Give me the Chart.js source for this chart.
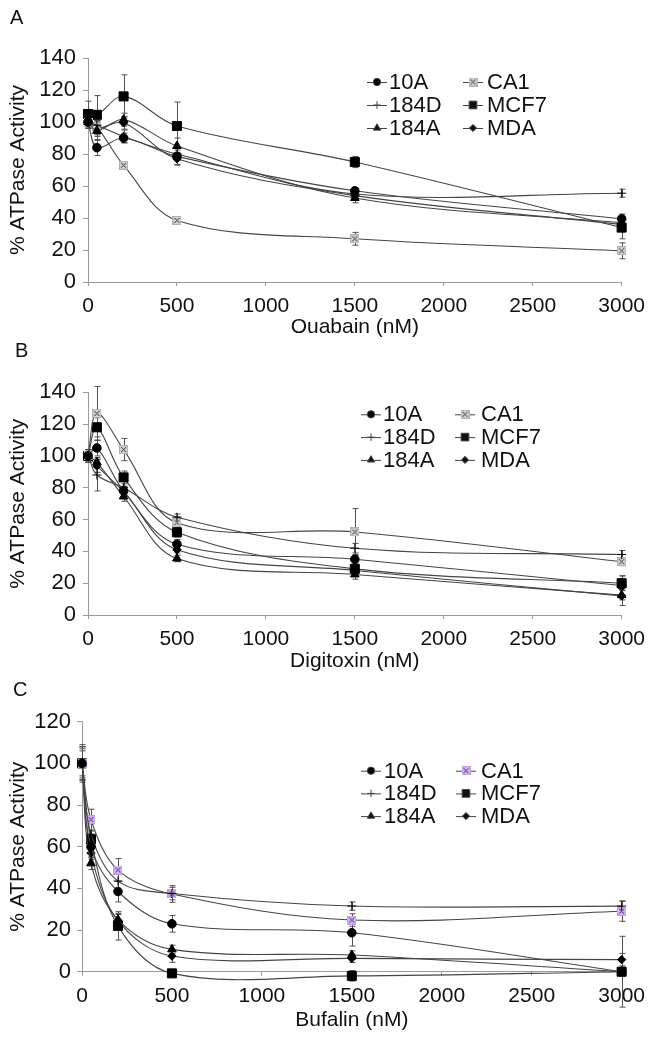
<!DOCTYPE html>
<html><head><meta charset="utf-8">
<script src="https://cdn.jsdelivr.net/npm/chart.js@4.4.0/dist/chart.umd.min.js"></script>
<style>
html,body{margin:0;padding:0;background:#fff;}
#wrap{position:relative;width:653px;height:1039px;overflow:hidden;background:#fff;}
canvas{position:absolute;left:0;}
.lbl{position:absolute;font-family:"Liberation Sans",Arial,sans-serif;font-size:20px;line-height:20px;color:#111;}
</style></head><body>
<div id="wrap">
<canvas id="cA" width="653" height="340" style="top:0px"></canvas>
<canvas id="cB" width="653" height="344" style="top:330px"></canvas>
<canvas id="cC" width="653" height="353" style="top:680px"></canvas>
<div class="lbl" style="left:10px;top:7px">A</div>
<div class="lbl" style="left:15px;top:340px">B</div>
<div class="lbl" style="left:13px;top:679px">C</div>
</div>
<script>
// ---------- data ----------
const doses = [0, 50, 200, 500, 1500, 3000];
const seriesNames = ['10A', '184D', '184A', 'CA1', 'MCF7', 'MDA'];
const xTicks = [0, 500, 1000, 1500, 2000, 2500, 3000];

// Panel A: Ouabain
const ouabain10A  = [100, 84, 90, 78.5, 57, 39.5];
const ouabain184D = [100, 98, 91, 80, 55, 55.5];
const ouabain184A = [100, 94.5, 101.5, 85, 52.5, 37];
const ouabainCA1  = [100, 97, 73, 38.5, 27, 19.5];
const ouabainMCF7 = [105, 104.5, 116, 97.5, 75, 34];
const ouabainMDA  = [100, 96, 99.5, 77, 54, 36];
const ouabainErr10A  = [3, 5, 3, 5, 2, 3];
const ouabainErr184D = [4, 6, 4, 4, 2, 2.5];
const ouabainErr184A = [4, 6, 4, 5, 3, 3];
const ouabainErrCA1  = [3, 4, 2, 2, 4, 5];
const ouabainErrMCF7 = [8, 12, 13.5, 15, 3.5, 7];
const ouabainErrMDA  = [4, 5, 4, 4, 2, 3];

// Panel B: Digitoxin
const digitoxin10A  = [100, 105, 78, 44.5, 35, 18.5];
const digitoxin184D = [100, 88, 80, 61.5, 42, 38];
const digitoxin184A = [100, 96, 74.5, 35.5, 25.5, 12.5];
const digitoxinCA1  = [100, 126.7, 104, 58, 52.2, 33.5];
const digitoxinMCF7 = [100, 118, 86.5, 52, 29, 20];
const digitoxinMDA  = [100, 93.7, 77.5, 41, 28, 12];
const digitoxinErr10A  = [4, 5, 3, 3, 3, 6];
const digitoxinErr184D = [4, 10, 4, 2, 3, 2.6];
const digitoxinErr184A = [4, 3, 3, 2, 3, 3];
const digitoxinErrCA1  = [4, 17, 7, 3.5, 14.7, 2.5];
const digitoxinErrMCF7 = [4, 6, 4, 3, 3, 4.7];
const digitoxinErrMDA  = [4, 4, 3, 2, 3, 6];

// Panel C: Bufalin
const bufalin10A  = [100, 60, 38.5, 23, 18.7, 0];
const bufalin184D = [100, 66, 43.5, 37.5, 31.5, 31.5];
const bufalin184A = [100, 52, 25, 10.7, 8, 0];
const bufalinCA1  = [100, 73, 48.8, 37.3, 24.8, 29];
const bufalinMCF7 = [100, 63.5, 22, -0.8, -2, 0];
const bufalinMDA  = [100, 57, 24.5, 7.5, 6.4, 5.8];
const bufalinErr10A  = [8, 5, 5, 4, 6.4, 17];
const bufalinErr184D = [9, 5, 5, 3, 2, 2.5];
const bufalinErr184A = [7, 3, 3, 2, 2, 2];
const bufalinErrCA1  = [8, 5, 5.5, 4, 3, 4.8];
const bufalinErrMCF7 = [8, 4, 6.8, 1.5, 2.5, 2];
const bufalinErrMDA  = [6, 3, 3, 3, 2, 3];

// ---------- styling ----------
const FONT = '"Liberation Sans", Arial, sans-serif';
const LINE = '#454545';
const AXIS = '#9a9a9a';

function ca1Marker(fill, border, xcol) {
  const c = document.createElement('canvas');
  c.width = 9; c.height = 9;
  const g = c.getContext('2d');
  g.fillStyle = fill; g.fillRect(0, 0, 9, 9);
  g.strokeStyle = border; g.lineWidth = 1; g.strokeRect(0.5, 0.5, 8, 8);
  g.strokeStyle = xcol; g.beginPath();
  g.moveTo(2, 2); g.lineTo(7, 7); g.moveTo(7, 2); g.lineTo(2, 7); g.stroke();
  return c;
}
const ca1Gray = ca1Marker('#d2d2d2', '#b0b0b0', '#333');
const ca1Purple = ca1Marker('#d7b6f4', '#c59be9', '#3a2366');

function markerStyle(name, ca1Img) {
  switch (name) {
    case '10A':  return {pointStyle: 'circle', pointRadius: 4.3};
    case '184D': return {pointStyle: 'cross', pointRadius: 4.5};
    case '184A': return {pointStyle: 'triangle', pointRadius: 5};
    case 'CA1':  return {pointStyle: ca1Img, pointRadius: 4.5};
    case 'MCF7': return {pointStyle: 'rect', pointRadius: 6.4};
    case 'MDA':  return {pointStyle: 'rectRot', pointRadius: 4.2};
  }
}

const errorBars = {
  id: 'errorBars',
  beforeDatasetsDraw(chart) {
    const {ctx, scales: {x, y}} = chart;
    ctx.save();
    ctx.strokeStyle = '#505050';
    ctx.lineWidth = 1;
    chart.data.datasets.forEach(ds => {
      if (!ds.errors) return;
      ds.data.forEach((p, i) => {
        const e = ds.errors[i];
        if (!e) return;
        const px = Math.round(x.getPixelForValue(p.x)) + 0.5;
        const t = y.getPixelForValue(p.y + e), b = y.getPixelForValue(p.y - e);
        ctx.beginPath();
        ctx.moveTo(px, t); ctx.lineTo(px, b);
        ctx.moveTo(px - 3, t); ctx.lineTo(px + 3, t);
        ctx.moveTo(px - 3, b); ctx.lineTo(px + 3, b);
        ctx.stroke();
      });
    });
    ctx.restore();
  }
};

const boxLegend = {
  id: 'boxLegend',
  afterDraw(chart, args, opts) {
    const {ctx} = chart;
    ctx.save();
    ctx.font = '22px ' + FONT;
    ctx.textBaseline = 'middle';
    ctx.textAlign = 'left';
    chart.data.datasets.forEach((ds, i) => {
      const col = Math.floor(i / 3), row = i % 3;
      const mx = opts.markerX[col], tx = opts.textX[col];
      const yy = opts.rowY + row * opts.rowGap;
      ctx.strokeStyle = LINE; ctx.lineWidth = 1;
      ctx.beginPath(); ctx.moveTo(mx - 10, yy + 0.5); ctx.lineTo(mx + 10, yy + 0.5); ctx.stroke();
      Chart.helpers.drawPoint(ctx, {
        pointStyle: ds.pointStyle, radius: ds.pointRadius * 0.85, rotation: 0,
        borderWidth: 1
      }, mx, yy);
      ctx.fillStyle = '#111';
      ctx.fillText(ds.label, tx, yy + 1);
    });
    ctx.restore();
  }
};

function makePanel(id, cfg) {
  const ca1Img = cfg.ca1Img;
  const datasets = cfg.series.map(([name, vals, errs]) => {
    const ms = markerStyle(name, ca1Img);
    return Object.assign({
      label: name,
      data: doses.map((d, i) => ({x: d, y: vals[i]})),
      errors: errs,
      borderColor: LINE,
      borderWidth: 1.1,
      backgroundColor: '#000',
      pointBackgroundColor: '#000',
      pointBorderColor: '#000',
      pointBorderWidth: 1,
      tension: 0.35,
      clip: false,
      fill: false
    }, ms);
  });
  const canvas = document.getElementById(id);
  const H = canvas.height;
  return new Chart(canvas, {
    type: 'line',
    data: {datasets},
    options: {
      responsive: false,
      animation: false,
      devicePixelRatio: 1,
      events: [],
      elements: {line: {capBezierPoints: false}},
      layout: {padding: {top: cfg.top, right: 653 - cfg.right, bottom: 0, left: 0}},
      plugins: {
        legend: {display: false},
        tooltip: {enabled: false},
        boxLegend: cfg.legend
      },
      scales: {
        x: {
          type: 'linear', min: 0, max: 3000,
          afterBuildTicks: s => { s.ticks = xTicks.map(v => ({value: v})); },
          afterFit: s => { s.height = H - cfg.bottom; },
          grid: {display: true, drawOnChartArea: false, drawTicks: true, tickLength: 4, color: AXIS},
          border: {display: true, color: AXIS, width: 1},
          ticks: {color: '#111', font: {family: FONT, size: 21}, padding: 8, maxRotation: 0, autoSkip: false,
                  callback: v => String(v)},
          title: {display: true, text: cfg.xTitle, color: '#111', font: {family: FONT, size: 21}, padding: {top: 0, bottom: 0}}
        },
        y: {
          min: 0, max: cfg.yMax,
          afterBuildTicks: s => { s.ticks = cfg.yTicks.map(v => ({value: v})); },
          afterFit: s => { s.width = cfg.left; },
          grid: {display: true, drawOnChartArea: false, drawTicks: true, tickLength: 5, color: AXIS},
          border: {display: true, color: AXIS, width: 1},
          ticks: {color: '#111', font: {family: FONT, size: 22}, padding: cfg.yPad, callback: v => String(v)},
          title: {display: true, text: '% ATPase Activity', color: '#111', font: {family: FONT, size: 21}, padding: {top: 6, bottom: 0}}
        }
      }
    },
    plugins: [errorBars, boxLegend]
  });
}

const yTicks140 = [0, 20, 40, 60, 80, 100, 120, 140];
const yTicks120 = [0, 20, 40, 60, 80, 100, 120];

makePanel('cA', {
  top: 58, bottom: 282, left: 88, right: 625, yMax: 140, yTicks: yTicks140, yPad: 7,
  xTitle: 'Ouabain (nM)', ca1Img: ca1Gray,
  legend: {markerX: [377, 473], textX: [389, 487], rowY: 82, rowGap: 23},
  series: [
    ['10A', ouabain10A, ouabainErr10A],
    ['184D', ouabain184D, ouabainErr184D],
    ['184A', ouabain184A, ouabainErr184A],
    ['CA1', ouabainCA1, ouabainErrCA1],
    ['MCF7', ouabainMCF7, ouabainErrMCF7],
    ['MDA', ouabainMDA, ouabainErrMDA]
  ]
});

makePanel('cB', {
  top: 62.3, bottom: 285, left: 88, right: 625, yMax: 140, yTicks: yTicks140, yPad: 7,
  xTitle: 'Digitoxin (nM)', ca1Img: ca1Gray,
  legend: {markerX: [371, 465], textX: [383, 481], rowY: 84.3, rowGap: 22.8},
  series: [
    ['10A', digitoxin10A, digitoxinErr10A],
    ['184D', digitoxin184D, digitoxinErr184D],
    ['184A', digitoxin184A, digitoxinErr184A],
    ['CA1', digitoxinCA1, digitoxinErrCA1],
    ['MCF7', digitoxinMCF7, digitoxinErrMCF7],
    ['MDA', digitoxinMDA, digitoxinErrMDA]
  ]
});

makePanel('cC', {
  top: 41.7, bottom: 291.7, left: 82, right: 628, yMax: 120, yTicks: yTicks120, yPad: 6,
  xTitle: 'Bufalin (nM)', ca1Img: ca1Purple,
  legend: {markerX: [371, 466], textX: [384, 481], rowY: 90.7, rowGap: 22.7},
  series: [
    ['10A', bufalin10A, bufalinErr10A],
    ['184D', bufalin184D, bufalinErr184D],
    ['184A', bufalin184A, bufalinErr184A],
    ['CA1', bufalinCA1, bufalinErrCA1],
    ['MCF7', bufalinMCF7, bufalinErrMCF7],
    ['MDA', bufalinMDA, bufalinErrMDA]
  ]
});
</script>
</body></html>
